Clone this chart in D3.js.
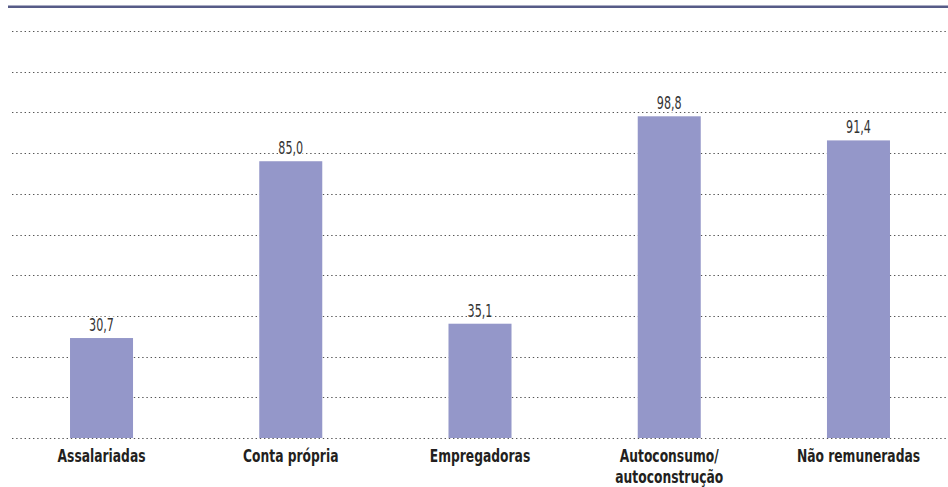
<!DOCTYPE html>
<html>
<head>
<meta charset="utf-8">
<script src="https://cdn.jsdelivr.net/npm/d3@7"></script>
<style>
  body { margin: 0; background: #fff; }
  svg { display: block; }
</style>
</head>
<body>
<div id="chart"></div>
<script>
const categories = ['Assalariadas', 'Conta própria', 'Empregadoras', 'Autoconsumo/\nautoconstrução', 'Não remuneradas'];
const values = [30.7, 85.0, 35.1, 98.8, 91.4];
const gridTicks = [0, 12.5, 25, 37.5, 50, 62.5, 75, 87.5, 100, 112.5, 125];

const width = 948, height = 487;
const baseY = 438, topY = 31;
const narrowFont = '"DejaVu Sans Condensed", "Liberation Sans Narrow", sans-serif';

const svg = d3.select('#chart').append('svg')
    .attr('width', width)
    .attr('height', height);

const x = d3.scaleBand()
    .domain(categories)
    .range([7, 953])
    .paddingInner(0.667)
    .paddingOuter(0.333);

const y = d3.scaleLinear()
    .domain([0, 125])
    .range([baseY, topY]);

// top rule
svg.append('rect')
    .attr('x', 8)
    .attr('y', 5.5)
    .attr('width', width - 8)
    .attr('height', 2.5)
    .attr('fill', '#565b87');

// dotted grid
svg.append('g')
    .selectAll('line')
    .data(gridTicks)
    .join('line')
    .attr('x1', 12)
    .attr('x2', width)
    .attr('y1', d => Math.round(y(d)) + 0.5)
    .attr('y2', d => Math.round(y(d)) + 0.5)
    .attr('stroke', '#555')
    .attr('stroke-width', 1)
    .attr('stroke-dasharray', '1.4,2.8');

// bars
svg.append('g')
    .selectAll('rect')
    .data(values)
    .join('rect')
    .attr('x', (d, i) => x(categories[i]))
    .attr('y', d => y(d))
    .attr('width', x.bandwidth())
    .attr('height', d => baseY - y(d))
    .attr('fill', '#9497c9');

// value labels
svg.append('g')
    .selectAll('text')
    .data(values)
    .join('text')
    .attr('transform', (d, i) => `translate(${x(categories[i]) + x.bandwidth() / 2},${y(d) - 7}) scale(0.69,1)`)
    .attr('text-anchor', 'middle')
    .attr('font-family', narrowFont)
    .attr('font-size', 18)
    .attr('fill', '#333')
    .attr('stroke', '#fff')
    .attr('stroke-width', 3)
    .attr('paint-order', 'stroke')
    .text(d => d.toFixed(1).replace('.', ','));

// category labels
const cat = svg.append('g')
    .selectAll('text')
    .data(categories)
    .join('text')
    .attr('transform', d => `translate(${x(d) + x.bandwidth() / 2},${baseY + 24}) scale(0.76,1)`)
    .attr('text-anchor', 'middle')
    .attr('font-family', narrowFont)
    .attr('font-weight', 'bold')
    .attr('font-size', 18)
    .attr('fill', '#231f20');

cat.selectAll('tspan')
    .data(d => d.split('\n'))
    .join('tspan')
    .attr('x', 0)
    .attr('dy', (d, i) => i === 0 ? 0 : 21)
    .text(d => d);
</script>
</body>
</html>
